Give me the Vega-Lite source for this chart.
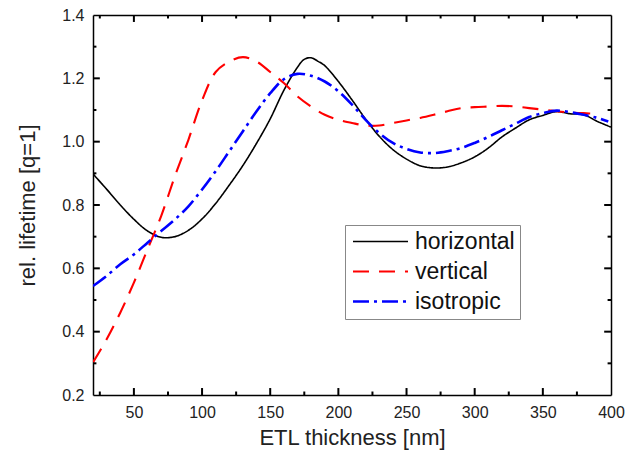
{
  "$schema": "https://vega.github.io/schema/vega-lite/v6.json",
  "width": 518,
  "height": 380,
  "autosize": {"type": "none"},
  "padding": {"left": 93, "top": 15, "right": 14, "bottom": 61},
  "background": "white",
  "config": {
    "view": {"stroke": null},
    "font": "Liberation Sans",
    "axis": {
      "domainColor": "#000000",
      "domainWidth": 1.5,
      "grid": false,
      "ticks": false,
      "labelFont": "Liberation Sans",
      "labelFontSize": 16,
      "labelColor": "#222222",
      "titleFont": "Liberation Sans",
      "titleFontSize": 22,
      "titleFontWeight": "normal",
      "titleColor": "#222222"
    }
  },
  "datasets": {
    "curves": [
      {"x": 20, "y": 0.898, "s": "horizontal"},
      {"x": 30, "y": 0.850, "s": "horizontal"},
      {"x": 40, "y": 0.800, "s": "horizontal"},
      {"x": 50, "y": 0.755, "s": "horizontal"},
      {"x": 60, "y": 0.718, "s": "horizontal"},
      {"x": 70, "y": 0.698, "s": "horizontal"},
      {"x": 80, "y": 0.700, "s": "horizontal"},
      {"x": 90, "y": 0.720, "s": "horizontal"},
      {"x": 100, "y": 0.756, "s": "horizontal"},
      {"x": 110, "y": 0.805, "s": "horizontal"},
      {"x": 120, "y": 0.863, "s": "horizontal"},
      {"x": 130, "y": 0.925, "s": "horizontal"},
      {"x": 140, "y": 0.995, "s": "horizontal"},
      {"x": 150, "y": 1.072, "s": "horizontal"},
      {"x": 160, "y": 1.162, "s": "horizontal"},
      {"x": 170, "y": 1.235, "s": "horizontal"},
      {"x": 175, "y": 1.260, "s": "horizontal"},
      {"x": 180, "y": 1.265, "s": "horizontal"},
      {"x": 185, "y": 1.254, "s": "horizontal"},
      {"x": 190, "y": 1.240, "s": "horizontal"},
      {"x": 200, "y": 1.19, "s": "horizontal"},
      {"x": 210, "y": 1.132, "s": "horizontal"},
      {"x": 220, "y": 1.071, "s": "horizontal"},
      {"x": 230, "y": 1.017, "s": "horizontal"},
      {"x": 240, "y": 0.975, "s": "horizontal"},
      {"x": 250, "y": 0.945, "s": "horizontal"},
      {"x": 260, "y": 0.924, "s": "horizontal"},
      {"x": 270, "y": 0.917, "s": "horizontal"},
      {"x": 280, "y": 0.92, "s": "horizontal"},
      {"x": 290, "y": 0.933, "s": "horizontal"},
      {"x": 300, "y": 0.952, "s": "horizontal"},
      {"x": 310, "y": 0.98, "s": "horizontal"},
      {"x": 320, "y": 1.015, "s": "horizontal"},
      {"x": 330, "y": 1.043, "s": "horizontal"},
      {"x": 340, "y": 1.069, "s": "horizontal"},
      {"x": 350, "y": 1.083, "s": "horizontal"},
      {"x": 360, "y": 1.095, "s": "horizontal"},
      {"x": 370, "y": 1.088, "s": "horizontal"},
      {"x": 380, "y": 1.085, "s": "horizontal"},
      {"x": 390, "y": 1.064, "s": "horizontal"},
      {"x": 400, "y": 1.046, "s": "horizontal"},
      {"x": 20, "y": 0.303, "s": "vertical"},
      {"x": 30, "y": 0.376, "s": "vertical"},
      {"x": 40, "y": 0.46, "s": "vertical"},
      {"x": 50, "y": 0.555, "s": "vertical"},
      {"x": 60, "y": 0.66, "s": "vertical"},
      {"x": 70, "y": 0.765, "s": "vertical"},
      {"x": 80, "y": 0.89, "s": "vertical"},
      {"x": 90, "y": 1.006, "s": "vertical"},
      {"x": 100, "y": 1.13, "s": "vertical"},
      {"x": 110, "y": 1.22, "s": "vertical"},
      {"x": 120, "y": 1.253, "s": "vertical"},
      {"x": 130, "y": 1.267, "s": "vertical"},
      {"x": 140, "y": 1.253, "s": "vertical"},
      {"x": 150, "y": 1.22, "s": "vertical"},
      {"x": 160, "y": 1.185, "s": "vertical"},
      {"x": 170, "y": 1.143, "s": "vertical"},
      {"x": 180, "y": 1.111, "s": "vertical"},
      {"x": 190, "y": 1.085, "s": "vertical"},
      {"x": 200, "y": 1.069, "s": "vertical"},
      {"x": 210, "y": 1.059, "s": "vertical"},
      {"x": 220, "y": 1.051, "s": "vertical"},
      {"x": 230, "y": 1.051, "s": "vertical"},
      {"x": 240, "y": 1.059, "s": "vertical"},
      {"x": 250, "y": 1.067, "s": "vertical"},
      {"x": 260, "y": 1.075, "s": "vertical"},
      {"x": 270, "y": 1.085, "s": "vertical"},
      {"x": 280, "y": 1.096, "s": "vertical"},
      {"x": 290, "y": 1.106, "s": "vertical"},
      {"x": 300, "y": 1.109, "s": "vertical"},
      {"x": 310, "y": 1.111, "s": "vertical"},
      {"x": 320, "y": 1.113, "s": "vertical"},
      {"x": 330, "y": 1.111, "s": "vertical"},
      {"x": 340, "y": 1.106, "s": "vertical"},
      {"x": 350, "y": 1.101, "s": "vertical"},
      {"x": 360, "y": 1.096, "s": "vertical"},
      {"x": 370, "y": 1.092, "s": "vertical"},
      {"x": 380, "y": 1.09, "s": "vertical"},
      {"x": 390, "y": 1.088, "s": "vertical"},
      {"x": 20, "y": 0.544, "s": "isotropic"},
      {"x": 30, "y": 0.576, "s": "isotropic"},
      {"x": 40, "y": 0.613, "s": "isotropic"},
      {"x": 50, "y": 0.644, "s": "isotropic"},
      {"x": 60, "y": 0.681, "s": "isotropic"},
      {"x": 70, "y": 0.718, "s": "isotropic"},
      {"x": 80, "y": 0.754, "s": "isotropic"},
      {"x": 90, "y": 0.796, "s": "isotropic"},
      {"x": 100, "y": 0.849, "s": "isotropic"},
      {"x": 110, "y": 0.907, "s": "isotropic"},
      {"x": 120, "y": 0.97, "s": "isotropic"},
      {"x": 130, "y": 1.033, "s": "isotropic"},
      {"x": 140, "y": 1.096, "s": "isotropic"},
      {"x": 150, "y": 1.153, "s": "isotropic"},
      {"x": 160, "y": 1.197, "s": "isotropic"},
      {"x": 170, "y": 1.214, "s": "isotropic"},
      {"x": 180, "y": 1.208, "s": "isotropic"},
      {"x": 190, "y": 1.19, "s": "isotropic"},
      {"x": 200, "y": 1.159, "s": "isotropic"},
      {"x": 210, "y": 1.117, "s": "isotropic"},
      {"x": 220, "y": 1.069, "s": "isotropic"},
      {"x": 230, "y": 1.027, "s": "isotropic"},
      {"x": 240, "y": 0.996, "s": "isotropic"},
      {"x": 250, "y": 0.977, "s": "isotropic"},
      {"x": 260, "y": 0.966, "s": "isotropic"},
      {"x": 270, "y": 0.964, "s": "isotropic"},
      {"x": 280, "y": 0.97, "s": "isotropic"},
      {"x": 290, "y": 0.98, "s": "isotropic"},
      {"x": 300, "y": 0.996, "s": "isotropic"},
      {"x": 310, "y": 1.015, "s": "isotropic"},
      {"x": 320, "y": 1.036, "s": "isotropic"},
      {"x": 330, "y": 1.057, "s": "isotropic"},
      {"x": 340, "y": 1.078, "s": "isotropic"},
      {"x": 350, "y": 1.09, "s": "isotropic"},
      {"x": 360, "y": 1.098, "s": "isotropic"},
      {"x": 370, "y": 1.093, "s": "isotropic"},
      {"x": 380, "y": 1.085, "s": "isotropic"},
      {"x": 390, "y": 1.075, "s": "isotropic"},
      {"x": 398, "y": 1.064, "s": "isotropic"}
    ],
    "xticks": [
      {"v": 25, "k": "minor"}, {"v": 50, "k": "major"}, {"v": 75, "k": "minor"}, {"v": 100, "k": "major"},
      {"v": 125, "k": "minor"}, {"v": 150, "k": "major"}, {"v": 175, "k": "minor"}, {"v": 200, "k": "major"},
      {"v": 225, "k": "minor"}, {"v": 250, "k": "major"}, {"v": 275, "k": "minor"}, {"v": 300, "k": "major"},
      {"v": 325, "k": "minor"}, {"v": 350, "k": "major"}, {"v": 375, "k": "minor"}
    ],
    "yticks": [
      {"v": 0.3, "k": "minor"}, {"v": 0.4, "k": "major"}, {"v": 0.5, "k": "minor"}, {"v": 0.6, "k": "major"},
      {"v": 0.7, "k": "minor"}, {"v": 0.8, "k": "major"}, {"v": 0.9, "k": "minor"}, {"v": 1.0, "k": "major"},
      {"v": 1.1, "k": "minor"}, {"v": 1.2, "k": "major"}, {"v": 1.3, "k": "minor"}
    ]
  },
  "layer": [
    {
      "data": {"name": "curves"},
      "mark": {"type": "line", "interpolate": "catmull-rom", "clip": true},
      "encoding": {
        "x": {
          "field": "x", "type": "quantitative",
          "scale": {"domain": [20, 400], "nice": false, "zero": false},
          "axis": {
            "orient": "bottom",
            "title": "ETL thickness [nm]",
            "values": [50, 100, 150, 200, 250, 300, 350, 400],
            "labelPadding": 9,
            "titlePadding": 7,
            "labelFlush": false,
            "labelOverlap": false
          }
        },
        "y": {
          "field": "y", "type": "quantitative",
          "scale": {"domain": [0.2, 1.4], "nice": false, "zero": false},
          "axis": {
            "orient": "left",
            "title": "rel. lifetime [q=1]",
            "values": [0.2, 0.4, 0.6, 0.8, 1.0, 1.2, 1.4],
            "format": ".1f",
            "labelPadding": 9,
            "titlePadding": 22,
            "labelFlush": false,
            "labelOverlap": false
          }
        },
        "color": {
          "field": "s", "type": "nominal",
          "scale": {"domain": ["horizontal", "vertical", "isotropic"], "range": ["#000000", "#ff0000", "#0000ff"]},
          "legend": {
            "orient": "none",
            "legendX": 252,
            "legendY": 210,
            "title": null,
            "symbolType": "M-2.75,0H2.75",
            "symbolSize": 400,
            "symbolStrokeWidth": 2.5,
            "symbolOffset": 19,
            "labelFont": "Liberation Sans",
            "labelFontSize": 23,
            "labelColor": "#111111",
            "labelOffset": 23,
            "rowPadding": 6,
            "strokeColor": "#888888",
            "fillColor": "white",
            "padding": 5,
            "labelLimit": 300
          }
        },
        "strokeDash": {
          "field": "s", "type": "nominal",
          "scale": {"domain": ["horizontal", "vertical", "isotropic"], "range": [[1, 0], [16, 10], [16, 5, 3, 5]]},
          "legend": null
        },
        "strokeWidth": {
          "field": "s", "type": "nominal",
          "scale": {"domain": ["horizontal", "vertical", "isotropic"], "range": [1.6, 2.6, 2.6]},
          "legend": null
        }
      }
    },
    {
      "data": {"name": "curves"},
      "mark": {"type": "line", "opacity": 0},
      "encoding": {
        "x": {"field": "x", "type": "quantitative", "axis": {"orient": "top", "title": null, "labels": false}},
        "y": {"field": "y", "type": "quantitative", "axis": {"orient": "right", "title": null, "labels": false}},
        "detail": {"field": "s"}
      }
    },
    {
      "data": {"name": "xticks"},
      "transform": [{"filter": "datum.k === 'major'"}],
      "mark": {"type": "rule", "color": "#000000", "strokeWidth": 2},
      "encoding": {
        "x": {"field": "v", "type": "quantitative", "axis": null},
        "y": {"datum": 0.2, "type": "quantitative", "axis": null},
        "y2": {"datum": 0.222}
      }
    },
    {
      "data": {"name": "xticks"},
      "transform": [{"filter": "datum.k === 'minor'"}],
      "mark": {"type": "rule", "color": "#000000", "strokeWidth": 2},
      "encoding": {
        "x": {"field": "v", "type": "quantitative", "axis": null},
        "y": {"datum": 0.2, "type": "quantitative", "axis": null},
        "y2": {"datum": 0.211}
      }
    },
    {
      "data": {"name": "xticks"},
      "transform": [{"filter": "datum.k === 'major'"}],
      "mark": {"type": "rule", "color": "#000000", "strokeWidth": 2},
      "encoding": {
        "x": {"field": "v", "type": "quantitative", "axis": null},
        "y": {"datum": 1.4, "type": "quantitative", "axis": null},
        "y2": {"datum": 1.378}
      }
    },
    {
      "data": {"name": "xticks"},
      "transform": [{"filter": "datum.k === 'minor'"}],
      "mark": {"type": "rule", "color": "#000000", "strokeWidth": 2},
      "encoding": {
        "x": {"field": "v", "type": "quantitative", "axis": null},
        "y": {"datum": 1.4, "type": "quantitative", "axis": null},
        "y2": {"datum": 1.389}
      }
    },
    {
      "data": {"name": "yticks"},
      "transform": [{"filter": "datum.k === 'major'"}],
      "mark": {"type": "rule", "color": "#000000", "strokeWidth": 2},
      "encoding": {
        "y": {"field": "v", "type": "quantitative", "axis": null},
        "x": {"datum": 20, "type": "quantitative", "axis": null},
        "x2": {"datum": 25}
      }
    },
    {
      "data": {"name": "yticks"},
      "transform": [{"filter": "datum.k === 'minor'"}],
      "mark": {"type": "rule", "color": "#000000", "strokeWidth": 2},
      "encoding": {
        "y": {"field": "v", "type": "quantitative", "axis": null},
        "x": {"datum": 20, "type": "quantitative", "axis": null},
        "x2": {"datum": 22.5}
      }
    },
    {
      "data": {"name": "yticks"},
      "transform": [{"filter": "datum.k === 'major'"}],
      "mark": {"type": "rule", "color": "#000000", "strokeWidth": 2},
      "encoding": {
        "y": {"field": "v", "type": "quantitative", "axis": null},
        "x": {"datum": 400, "type": "quantitative", "axis": null},
        "x2": {"datum": 395}
      }
    },
    {
      "data": {"name": "yticks"},
      "transform": [{"filter": "datum.k === 'minor'"}],
      "mark": {"type": "rule", "color": "#000000", "strokeWidth": 2},
      "encoding": {
        "y": {"field": "v", "type": "quantitative", "axis": null},
        "x": {"datum": 400, "type": "quantitative", "axis": null},
        "x2": {"datum": 397.5}
      }
    }
  ]
}
